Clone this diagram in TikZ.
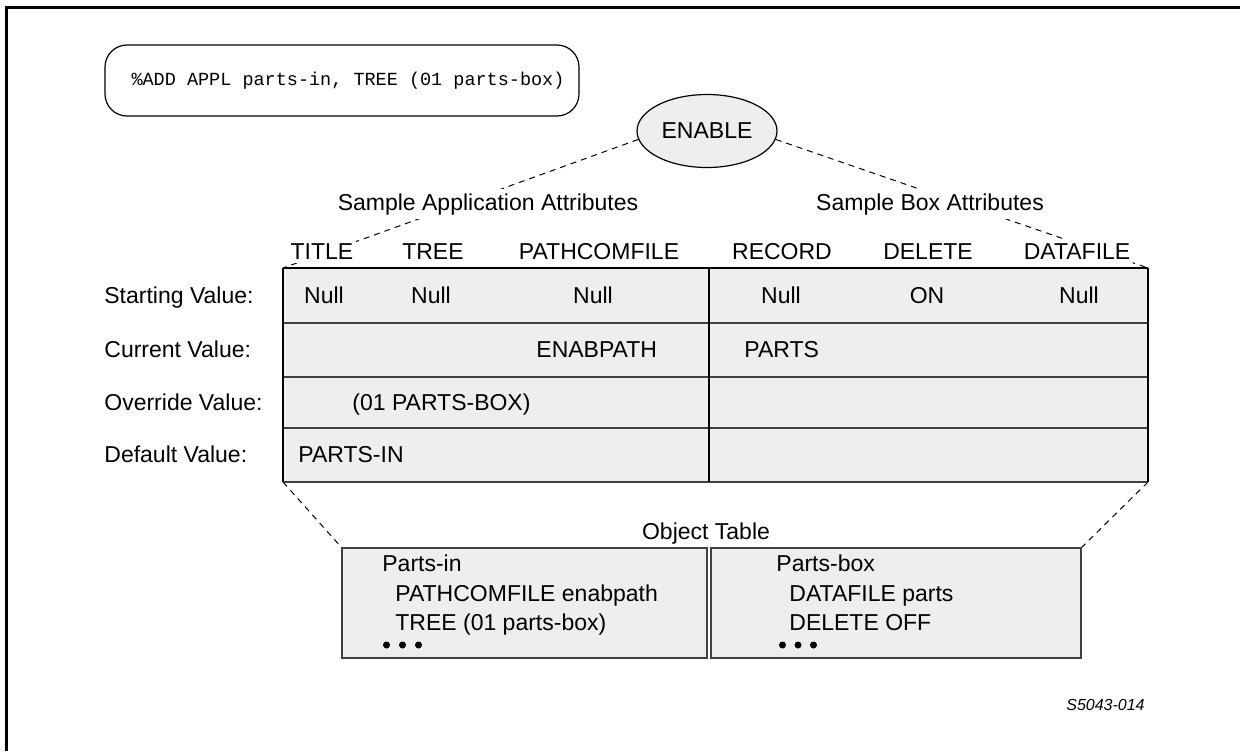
\documentclass[tikz,border=0pt]{standalone}
\usepackage{fontspec}
\setmainfont{Liberation Sans}
\newfontfamily\cmdfont{Liberation Mono}
\usetikzlibrary{shapes.geometric}
\definecolor{cellgray}{HTML}{EEEEEE}
\definecolor{linegray}{HTML}{404040}
\begin{document}
\begin{tikzpicture}[x=0.5pt,y=-0.5pt,
  txt/.style={font=\fontsize{11.5}{13.8}\selectfont},
  lbl/.style={txt, inner sep=0pt, anchor=base},
  lblw/.style={txt, inner sep=0pt, anchor=base west},
  knock/.style={lbl, fill=white, inner xsep=1.5pt, inner ysep=2pt},
  dashline/.style={line width=0.5pt, dash pattern=on 3pt off 2.5pt},
  hline/.style={linegray, line width=1pt},
  vline/.style={black, line width=0.6pt},
  objbox/.style={draw=linegray, line width=1pt, fill=cellgray},
  dot/.style={fill=black}
]
\useasboundingbox (0,0) rectangle (1240,751);
% frame
\draw[line width=1.5pt] (6,751) -- (6,7) -- (1240,7);

% command box
\node[draw, line width=0.6pt, rounded corners=11pt, minimum width=237pt, minimum height=35.5pt,
      inner sep=0pt, font=\cmdfont\fontsize{9.25}{11}\selectfont] (cmd) at (342,80.5)
      {\hspace{6pt}\%ADD APPL parts-in, TREE (01 parts-box)};

% ENABLE ellipse
\node[ellipse, draw, line width=0.6pt, fill=cellgray, minimum width=70pt, minimum height=36.5pt,
      inner sep=0pt, txt] (enable) at (707,131) {ENABLE};

% table geometry
\coordinate (tTL) at (283,268);
\coordinate (tTR) at (1148,268);
\coordinate (tBL) at (283,482);
\coordinate (tBR) at (1148,482);
\coordinate (oTL) at (342,548);
\coordinate (oTR) at (1081,548);

% dashed connectors
\draw[dashline] (enable.187) -- (tTL);
\draw[dashline] (enable.353) -- (tTR);
\draw[dashline] (tBL) -- (oTL);
\draw[dashline] (tBR) -- (oTR);

% table
\fill[cellgray] (tTL) rectangle (tBR);
\draw[vline] (tTL) -- (tTR);
\foreach \yy in {323,377,428,482} \draw[hline] (283,\yy) -- (1148,\yy);
\draw[vline] (tTL) -- (tBL);
\draw[vline] (709,268) -- (709,482);
\draw[vline] (tTR) -- (tBR);

% group labels
\node[knock] (sappl) at (488,210) {Sample Application Attributes};
\node[knock] (sbox) at (930,210) {Sample Box Attributes};

% headers
\node[knock] (hTitle) at (322,259) {TITLE};
\node[knock] (hTree) at (433,259) {TREE};
\node[knock] (hPath) at (599,259) {PATHCOMFILE};
\node[knock] (hRec) at (782,259) {RECORD};
\node[knock] (hDel) at (928,259) {DELETE};
\node[knock] (hData) at (1077,259) {DATAFILE};

% row labels
\node[lblw] (rStart) at (104,303) {Starting Value:};
\node[lblw] (rCur) at (104,357.5) {Current Value:};
\node[lblw] (rOver) at (104,410) {Override Value:};
\node[lblw] (rDef) at (104,462.5) {Default Value:};

% cells
\node[lbl] (c11) at (324,303) {Null};
\node[lbl] (c12) at (431,303) {Null};
\node[lbl] (c13) at (593,303) {Null};
\node[lbl] (c14) at (781,303) {Null};
\node[lbl] (c15) at (927,303) {ON};
\node[lbl] (c16) at (1079,303) {Null};
\node[lblw] (c23) at (536,357.5) {ENABPATH};
\node[lblw] (c24) at (744,357.5) {PARTS};
\node[lblw] (c31) at (352,410) {(01 PARTS-BOX)};
\node[lblw] (c41) at (298,462.5) {PARTS-IN};

% object table
\node[lbl] (otitle) at (706,539) {Object Table};
\draw[objbox] (oTL) rectangle (707,658);
\draw[objbox] (711,548) rectangle (1081,658);

\node[lblw] (o1a) at (382,571) {Parts-in};
\node[lblw] (o1b) at (395,601) {PATHCOMFILE enabpath};
\node[lblw] (o1c) at (395,630) {TREE (01 parts-box)};
\foreach \xx in {386.5,402.5,418.5} \fill[dot] (\xx,645) circle (1.75pt);

\node[lblw] (o2a) at (776,571) {Parts-box};
\node[lblw] (o2b) at (789,601) {DATAFILE parts};
\node[lblw] (o2c) at (789,630) {DELETE OFF};
\foreach \xx in {782.5,798,813.5} \fill[dot] (\xx,645) circle (1.75pt);

% figure id
\node[inner sep=0pt, anchor=base east, font=\itshape\fontsize{8}{9.6}\selectfont] (figid) at (1145,710) {S5043-014};
\end{tikzpicture}
\end{document}
